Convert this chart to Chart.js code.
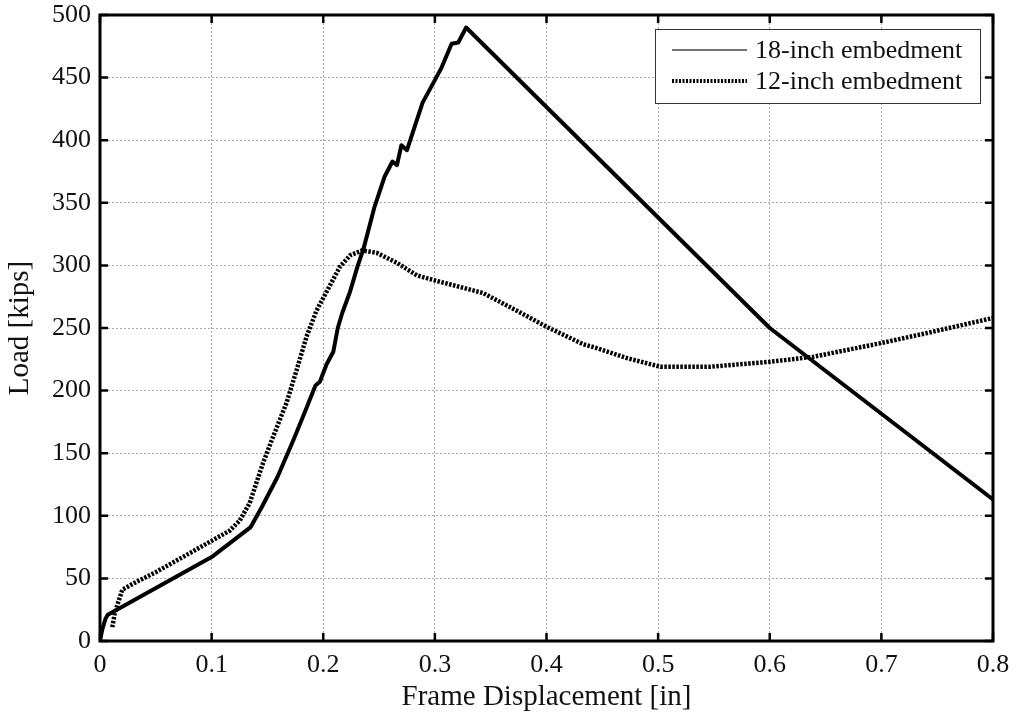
<!DOCTYPE html>
<html>
<head>
<meta charset="utf-8">
<script src="https://cdn.jsdelivr.net/npm/chart.js@4.4.1/dist/chart.umd.min.js"></script>
<style>
  html, body { margin: 0; padding: 0; background: #fff; }
</style>
</head>
<body>
<canvas id="loadChart" width="1014" height="721"></canvas>
<script>
// 18-inch embedment (solid)
const solidX = [0, 0.002, 0.005, 0.007, 0.1, 0.135, 0.145, 0.159, 0.173, 0.184, 0.193, 0.197,
  0.203, 0.209, 0.213, 0.217, 0.224, 0.231, 0.236, 0.246, 0.255, 0.262, 0.266, 0.27, 0.275,
  0.282, 0.289, 0.3, 0.306, 0.315, 0.321, 0.328, 0.6, 0.8];
const solidY = [0, 9, 18, 21, 67, 91, 107, 131, 160, 184, 204, 207,
  221, 231, 250, 262, 279, 300, 313, 347, 371, 383, 380, 396, 392,
  411, 430, 448, 458, 477, 478, 490, 250, 113];

// 12-inch embedment (dotted)
const dottedX = [0.011, 0.013, 0.016, 0.02, 0.03, 0.05, 0.08, 0.1, 0.116, 0.125, 0.134, 0.146,
  0.155, 0.167, 0.176, 0.185, 0.194, 0.206, 0.215, 0.224, 0.235, 0.248, 0.266, 0.284, 0.3,
  0.343, 0.373, 0.4, 0.433, 0.445, 0.472, 0.502, 0.546, 0.6, 0.639, 0.7, 0.741, 0.8];
const dottedY = [11, 21, 30, 41, 46, 55, 70, 80, 88, 96, 110, 142,
  163, 190, 216, 243, 264, 284, 299, 308, 312, 310, 302, 292, 288,
  278, 264, 251, 237, 234, 226, 219, 219, 223, 227, 238, 246, 258];

const seriesNames = ["18-inch embedment", "12-inch embedment"];

const xTickValues = [0, 0.1, 0.2, 0.3, 0.4, 0.5, 0.6, 0.7, 0.8];
const xTickLabels = ["0", "0.1", "0.2", "0.3", "0.4", "0.5", "0.6", "0.7", "0.8"];
const yTickValues = [0, 50, 100, 150, 200, 250, 300, 350, 400, 450, 500];
const yTickLabels = ["0", "50", "100", "150", "200", "250", "300", "350", "400", "450", "500"];

const serif = "'Liberation Serif', 'Times New Roman', serif";

const toPoints = (xs, ys) => xs.map((x, i) => ({ x: x, y: ys[i] }));

// frame, inward tick marks and the boxed legend
const framePlugin = {
  id: "framePlugin",
  afterDatasetsDraw(chart) {
    const { ctx, chartArea: a, scales } = chart;
    ctx.save();
    ctx.strokeStyle = "#000";
    ctx.lineWidth = 2.5;
    ctx.beginPath();
    xTickValues.forEach((v) => {
      const px = scales.x.getPixelForValue(v);
      ctx.moveTo(px, a.bottom); ctx.lineTo(px, a.bottom - 8);
      ctx.moveTo(px, a.top); ctx.lineTo(px, a.top + 8);
    });
    yTickValues.forEach((v) => {
      const py = scales.y.getPixelForValue(v);
      ctx.moveTo(a.left, py); ctx.lineTo(a.left + 8, py);
      ctx.moveTo(a.right, py); ctx.lineTo(a.right - 8, py);
    });
    ctx.stroke();
    ctx.lineWidth = 3;
    ctx.strokeRect(a.left, a.top, a.right - a.left, a.bottom - a.top);

    // legend box
    const bx = 655, by = 29, bw = 325, bh = 74;
    ctx.fillStyle = "#fff";
    ctx.fillRect(bx, by, bw, bh);
    ctx.lineWidth = 1;
    ctx.strokeStyle = "#333";
    ctx.strokeRect(bx + 0.5, by + 0.5, bw, bh);

    ctx.lineCap = "butt";
    ctx.strokeStyle = "#444";
    ctx.lineWidth = 1.5;
    ctx.beginPath(); ctx.moveTo(672, 50); ctx.lineTo(747, 50); ctx.stroke();
    ctx.strokeStyle = "#000";
    ctx.lineWidth = 4;
    ctx.setLineDash([2, 1.5]);
    ctx.beginPath(); ctx.moveTo(672, 81); ctx.lineTo(747, 81); ctx.stroke();
    ctx.setLineDash([]);

    ctx.fillStyle = "#111";
    ctx.font = "26px " + serif;
    ctx.textBaseline = "middle";
    ctx.textAlign = "left";
    ctx.fillText(seriesNames[0], 755, 51);
    ctx.fillText(seriesNames[1], 755, 82);
    ctx.restore();
  },
};

const chart = new Chart(document.getElementById("loadChart"), {
  type: "line",
  data: {
    datasets: [
      {
        label: seriesNames[0],
        data: toPoints(solidX, solidY),
        borderColor: "#000",
        borderWidth: 4,
        borderJoinStyle: "round",
        pointRadius: 0,
        tension: 0,
      },
      {
        label: seriesNames[1],
        data: toPoints(dottedX, dottedY),
        borderColor: "#000",
        borderWidth: 4.5,
        borderDash: [2.5, 1.5],
        borderCapStyle: "butt",
        pointRadius: 0,
        tension: 0,
      },
    ],
  },
  options: {
    responsive: false,
    animation: false,
    layout: { padding: { left: 0, right: 21, top: 15, bottom: 0 } },
    plugins: { legend: { display: false }, tooltip: { enabled: false } },
    scales: {
      x: {
        type: "linear",
        min: 0,
        max: 0.8,
        afterBuildTicks: (s) => { s.ticks = xTickValues.map((v) => ({ value: v })); },
        afterFit: (s) => { s.height = 80; s.paddingLeft = 0; s.paddingRight = 0; },
        ticks: {
          color: "#111",
          padding: 9,
          font: { family: serif, size: 26 },
          callback: (v, i) => xTickLabels[i],
        },
        grid: { color: "#a8a8a8", lineWidth: 1, drawTicks: false },
        border: { display: false, dash: [2, 2] },
        title: {
          display: true,
          text: "Frame Displacement [in]",
          color: "#111",
          font: { family: serif, size: 29 },
          padding: { top: 0, bottom: 6 },
        },
      },
      y: {
        type: "linear",
        min: 0,
        max: 500,
        afterBuildTicks: (s) => { s.ticks = yTickValues.map((v) => ({ value: v })); },
        afterFit: (s) => { s.width = 100; s.paddingTop = 0; s.paddingBottom = 0; },
        ticks: {
          color: "#111",
          padding: 9,
          font: { family: serif, size: 26 },
          callback: (v, i) => yTickLabels[i],
        },
        grid: { color: "#a8a8a8", lineWidth: 1, drawTicks: false },
        border: { display: false, dash: [2, 2] },
        title: {
          display: true,
          text: "Load [kips]",
          color: "#111",
          font: { family: serif, size: 29 },
          padding: { top: 3, bottom: 0 },
        },
      },
    },
  },
  plugins: [framePlugin],
});
</script>
</body>
</html>
